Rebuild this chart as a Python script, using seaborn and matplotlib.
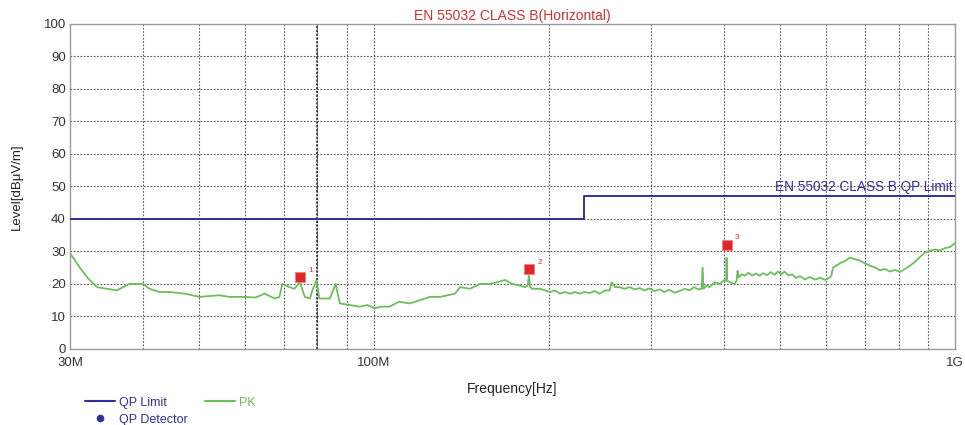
import numpy as np
import pandas as pd
import matplotlib
matplotlib.use("Agg")
import matplotlib.pyplot as plt
from matplotlib.lines import Line2D
from matplotlib.ticker import FixedLocator, NullLocator
import seaborn as sns

# Peak (PK) scan, frequency in MHz, level in dBuV/m
pk_freq = [30, 31.2, 32.3, 33.4, 36.1, 38.0, 40.1, 41.1, 42.8, 44.6,
           47.3, 50.1, 54.2, 56.4, 60.0, 62.5, 64.9, 67.5, 68.8, 69.6,
           71.6, 73.0, 74.6, 76.1, 77.6, 78.4, 79.7, 80.6, 84.0, 86.0,
           87.4, 90.9, 94.6, 97.5, 100.4, 103.0, 106.4, 110.5, 115.2, 120.1,
           124.9, 130.0, 134, 138.0, 140.8, 146.4, 152.3, 158.4, 163, 168.2,
           172.9, 178, 182.0, 184.0, 184.9, 185.8, 187.1, 193.2, 201.0, 205,
           209.1, 213, 217.5, 222, 226.3, 230, 235.4, 240, 244.8, 250,
           254.7, 256.7, 260, 264.9, 270, 276, 281, 286.9, 292, 298,
           304, 310.4, 316, 322, 329, 336.0, 343, 349.5, 356, 362,
           366.5, 368.0, 369.5, 374, 378.4, 386, 393.7, 400, 404, 404.7,
           405.5, 410, 417.7, 421, 422.7, 424.5, 430, 434.6, 441, 448,
           455, 461.3, 468, 475, 482, 489.5, 496, 503, 509.2, 517,
           525, 533, 541.0, 552, 563, 575, 586.0, 598, 609.6, 613,
           616.9, 625, 635, 646.9, 660, 673.0, 686, 700.2, 714, 728,
           743.3, 758, 773, 789.0, 805, 820.9, 837, 853.8, 871, 888.4,
           906, 924.3, 942, 961.6, 980, 1000]
pk_level = [29.5, 25, 21.5, 19, 18, 20, 20, 18.5, 17.5, 17.5,
            17, 16, 16.5, 16, 16, 15.8, 17, 15.5, 16, 20,
            19, 18.5, 20.5, 16, 15.5, 18, 21, 15.5, 15.5, 20,
            14, 13.5, 13, 13.5, 12.5, 13, 13, 14.5, 14, 15,
            16, 16, 16.5, 17, 19, 18.5, 20, 20, 20.5, 21.2,
            20, 19.5, 19, 19.5, 22.5, 19, 18.5, 18.5, 17.5, 18,
            17, 17.5, 17, 17.5, 17, 17.5, 17.2, 17.8, 17, 18,
            18, 20.5, 19, 19, 18.5, 19, 18.3, 18.7, 18, 18.6,
            17.8, 18.3, 17.5, 18.2, 17.3, 17.8, 18.5, 18, 19, 18.3,
            18.5, 25, 18.5, 19.5, 19, 20.5, 20, 21, 21, 28,
            21, 20.5, 20, 21, 24, 22, 23, 22.5, 23.4, 22.6,
            23.2, 22.5, 23.3, 22.7, 23.6, 22.8, 23.8, 23, 23.8, 22.6,
            22.9, 21.8, 22.4, 21.4, 22.1, 21.3, 21.9, 21.2, 22, 22.5,
            25, 25.6, 26.4, 27, 28.1, 27.6, 27.2, 26.3, 25.6, 25.1,
            24.2, 24.6, 23.8, 24.3, 23.7, 24.6, 25.6, 26.8, 28.3, 29.6,
            30.2, 30.6, 30.3, 31, 31.3, 32.5]

# QP limit (EN 55032 class B)
limit_freq = [30, 230, 230, 1000]
limit_level = [40, 40, 47, 47]

# Marked peaks
mark_freq = [74.6, 184.9, 404.7]
mark_level = [22, 24.5, 32]
mark_label = ["1", "2", "3"]

grid_freq = [40, 50, 60, 70, 80, 90, 100, 200, 300, 400, 500, 600, 700, 800, 900]

blue = "#30309a"
green = "#6cbf5c"
red = "#e02828"

sns.set_style("white")
plt.rcParams['font.family'] = ['Liberation Sans', 'DejaVu Sans']

fig = plt.figure(figsize=(9.65, 4.25), dpi=100)
ax = fig.add_axes([0.0725, 0.179, 0.917, 0.765])

pk = pd.DataFrame({"freq": np.array(pk_freq) * 1e6, "level": pk_level})
lim = pd.DataFrame({"freq": np.array(limit_freq) * 1e6, "level": limit_level})
marks = pd.DataFrame({"freq": np.array(mark_freq) * 1e6, "level": mark_level})

ax.set_xscale("log")
sns.lineplot(data=lim, x="freq", y="level", ax=ax, color=blue, lw=1.4,
             sort=False, estimator=None, zorder=3)
sns.lineplot(data=pk, x="freq", y="level", ax=ax, color=green, lw=1.3,
             sort=False, estimator=None, zorder=4)
sns.scatterplot(data=marks, x="freq", y="level", ax=ax, marker="s", s=45,
                color=red, edgecolor="#f08080", linewidth=0.6, zorder=5)
for f, lv, t in zip(mark_freq, mark_level, mark_label):
    ax.annotate(t, (f * 1e6, lv), xytext=(6, 4), textcoords="offset points",
                fontsize=6, color=red)

ax.set_xlim(30e6, 1e9)
ax.set_ylim(0, 100)
ax.xaxis.set_major_locator(FixedLocator([30e6, 100e6, 1e9]))
ax.xaxis.set_minor_locator(NullLocator())
ax.set_xticklabels(["30M", "100M", "1G"])
ax.set_yticks(range(0, 101, 10))
ax.tick_params(labelsize=9.5, length=0, pad=3, labelcolor="#333333")
ax.tick_params(axis="x", pad=6)

# grid
for y in range(10, 100, 10):
    ax.axhline(y, color="#555555", lw=0.8, ls=(0, (1.5, 1.5)), zorder=1)
for f in grid_freq:
    ax.axvline(f * 1e6, color="#555555", lw=0.8, ls=(0, (1.5, 1.5)), zorder=1)
ax.axvline(80e6, color="#222222", lw=1.1, ls=(0, (1.5, 1.0)), zorder=2)

for s in ax.spines.values():
    s.set_color("#999999")
    s.set_linewidth(1.0)

ax.set_xlabel("Frequency[Hz]", fontsize=10, labelpad=9, color="#222222")
ax.set_ylabel("Level[dB\u03bcV/m]", fontsize=9.5, labelpad=15, color="#222222")
ax.set_title("EN 55032 CLASS B(Horizontal)", fontsize=10, color="#d03030", pad=3)
ax.text(0.997, 47.6, "EN 55032 CLASS B QP Limit", transform=ax.get_yaxis_transform(),
        ha="right", va="bottom", fontsize=9.8, color=blue)

handles = [Line2D([], [], color=blue, lw=1.5),
           Line2D([], [], color=blue, marker="o", ls="", ms=4.5),
           Line2D([], [], color=green, lw=1.5)]
leg = fig.legend(handles, ["QP Limit", "QP Detector", "PK"], ncol=2,
                 loc="upper left", bbox_to_anchor=(0.082, 0.081), frameon=False,
                 fontsize=9, handlelength=2.4, handletextpad=0.3,
                 columnspacing=1.4, labelspacing=0.4, borderpad=0)
for txt, c in zip(leg.get_texts(), [blue, blue, green]):
    txt.set_color(c)

fig.savefig("out.png", dpi=100)
